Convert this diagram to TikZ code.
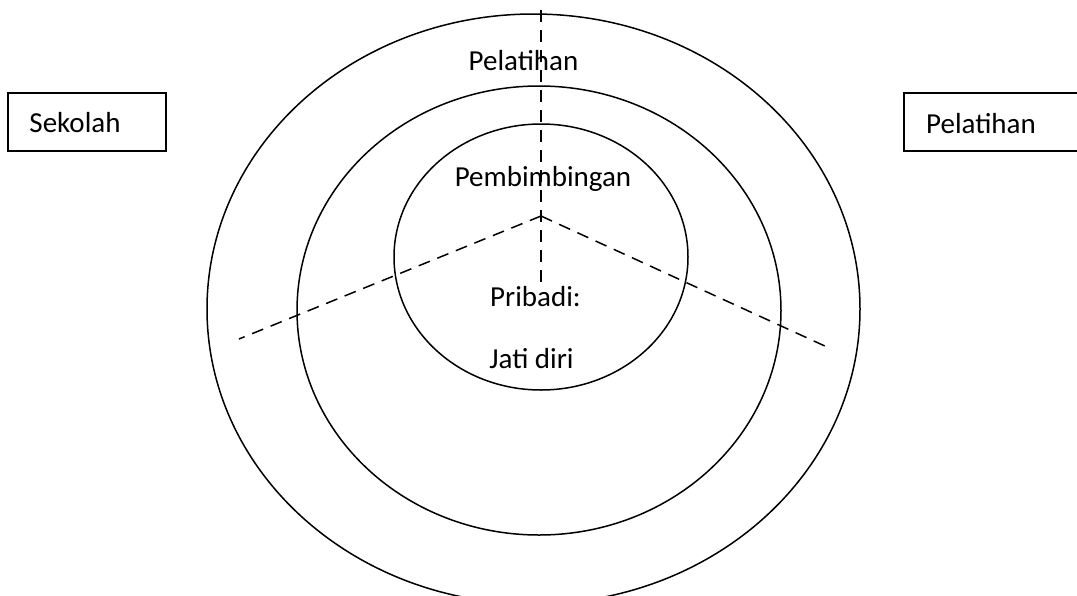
\documentclass[tikz,border=0pt]{standalone}
\usepackage{fontspec}
\setmainfont{Carlito}
\tikzset{
  ring/.style={draw, line width=0.75pt},
  divider/.style={draw, line width=0.75pt, dash pattern=on 6pt off 4pt},
  label/.style={anchor=base, inner sep=0pt, font=\fontsize{14.5}{17}\selectfont},
  sidebox/.style={draw, line width=0.75pt}
}
\begin{document}
\begin{tikzpicture}[x=0.5pt,y=-0.5pt]
\useasboundingbox (0,0) rectangle (1077,595);
\clip (0,0) rectangle (1077,595);
% rings
\draw[ring] (533.5,309) ellipse [x radius=163.25pt, y radius=147.5pt];
\draw[ring] (539,310.5) ellipse [x radius=121pt, y radius=112.25pt];
\draw[ring] (541,257) ellipse [x radius=73.5pt, y radius=66.5pt];
% dividers
\coordinate (c) at (541,216);
\coordinate (vtop) at (541,10);
\coordinate (vbot) at (541,282);
\coordinate (lend) at (239,339);
\coordinate (rend) at (827,347);
\draw[divider] (vtop) -- (vbot);
\draw[divider] (c) -- (lend);
\draw[divider] (c) -- (rend);
% side boxes
\draw[sidebox] (8,93) rectangle (166,151);
\draw[sidebox] (904,151) -- (904,93) -- (1090,93) -- (1090,151) -- cycle;
% labels
\node[label] (sek) at (75,132) {Sekolah};
\node[label] (pelR) at (981,133) {Pelatihan};
\node[label] (pelO) at (523.5,70) {Pelatihan};
\node[label] (pemb) at (543,186) {Pembimbingan};
\node[label] (prib) at (535.5,306) {Pribadi:};
\node[label] (jati) at (531.5,368) {Jati diri};
\end{tikzpicture}
\end{document}
